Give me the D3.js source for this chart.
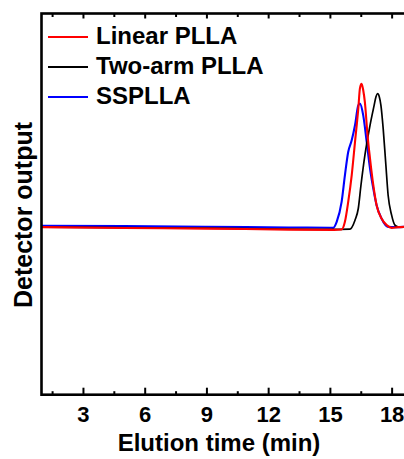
<!DOCTYPE html>
<html>
<head>
<meta charset="utf-8">
<script src="https://cdn.jsdelivr.net/npm/d3@7"></script>
<style>
  html, body { margin: 0; padding: 0; background: #fff; }
  svg { display: block; font-family: "Liberation Sans", Arial, sans-serif; font-weight: bold; }
</style>
</head>
<body>
<svg id="chart" width="404" height="459"></svg>
<script>
// GPC traces: elution time (min) and normalised detector response
const linearTime  = [1, 5, 9, 13, 15.2, 15.57, 15.73, 15.89, 16.06, 16.22, 16.38, 16.46, 16.54, 16.62, 16.70, 16.83, 16.95, 17.11, 17.27, 17.51, 17.76, 18.0, 18.32, 18.8];
const linearValue = [0.007, 0.001, -0.003, -0.010, -0.012, -0.009, 0.044, 0.182, 0.366, 0.596, 0.827, 0.968, 1.0, 0.955, 0.873, 0.643, 0.482, 0.297, 0.159, 0.067, 0.021, 0.002, 0.007, 0.010];

const twoArmTime  = [1, 5, 9, 13, 15.0, 15.97, 16.22, 16.38, 16.51, 16.70, 16.95, 17.15, 17.24, 17.32, 17.40, 17.48, 17.59, 17.71, 17.83, 18.0, 18.16, 18.32, 18.8];
const twoArmValue = [0.007, 0.003, 0.0, -0.007, -0.009, -0.007, 0.055, 0.136, 0.297, 0.504, 0.712, 0.850, 0.910, 0.931, 0.910, 0.850, 0.689, 0.458, 0.228, 0.090, 0.021, 0.009, 0.010];

const ssTime  = [1, 5, 9, 13, 15.0, 15.16, 15.33, 15.57, 15.73, 15.89, 16.06, 16.22, 16.38, 16.46, 16.62, 16.79, 16.95, 17.11, 17.27, 17.51, 17.83, 18.16, 18.8];
const ssValue = [0.016, 0.014, 0.010, 0.005, 0.003, 0.002, 0.044, 0.182, 0.366, 0.527, 0.608, 0.712, 0.850, 0.862, 0.781, 0.596, 0.413, 0.274, 0.159, 0.067, 0.009, 0.007, 0.010];

const seriesNames  = ["Linear PLLA", "Two-arm PLLA", "SSPLLA"];
const seriesColors = ["#ff0000", "#000000", "#0000ff"];
const majorTicks   = [3, 6, 9, 12, 15, 18];
const minorTicks   = [1.5, 4.5, 7.5, 10.5, 13.5, 16.5];

const svg = d3.select("#chart");
const plotLeft = 41.5, plotRight = 412.2, plotTop = 13.5, plotBottom = 394.7;

const x = d3.scaleLinear().domain([1, 19]).range([41.8, 412.2]);
const y = d3.scaleLinear().domain([-1.153, 1.486]).range([plotBottom, plotTop]);

const series = [
  linearTime.map((t, i) => [t, linearValue[i]]),
  twoArmTime.map((t, i) => [t, twoArmValue[i]]),
  ssTime.map((t, i) => [t, ssValue[i]])
];

svg.append("clipPath").attr("id", "plotClip")
  .append("rect").attr("x", plotLeft).attr("y", plotTop)
  .attr("width", plotRight - plotLeft).attr("height", plotBottom - plotTop);

const line = d3.line().x(d => x(d[0])).y(d => y(d[1])).curve(d3.curveMonotoneX);

const traces = svg.append("g").attr("clip-path", "url(#plotClip)");
// blue first, then black, red on top
[2, 1, 0].forEach(i => {
  traces.append("path")
    .datum(series[i])
    .attr("fill", "none")
    .attr("stroke", seriesColors[i])
    .attr("stroke-width", i === 1 ? 1.7 : 2.1)
    .attr("stroke-linejoin", "round")
    .attr("d", line);
});

// bottom axis with inward ticks
const bottomAxis = d3.axisBottom(x).tickValues(majorTicks).tickSize(-7).tickFormat(d3.format("d"));
const gb = svg.append("g").attr("transform", `translate(0,${plotBottom})`).call(bottomAxis);
gb.select(".domain").remove();
gb.selectAll(".tick line").attr("stroke", "#000").attr("stroke-width", 2);
gb.selectAll(".tick text").attr("font-size", 22).attr("font-weight", "bold").attr("fill", "#000")
  .attr("font-family", "Liberation Sans, Arial, sans-serif").attr("dy", null).attr("y", 27.5);

const bottomMinor = d3.axisBottom(x).tickValues(minorTicks).tickSize(-3.5).tickFormat("");
const gbm = svg.append("g").attr("transform", `translate(0,${plotBottom})`).call(bottomMinor);
gbm.select(".domain").remove();
gbm.selectAll(".tick line").attr("stroke", "#000").attr("stroke-width", 2);

// top axis mirrors the ticks
const topAxis = d3.axisTop(x).tickValues(majorTicks).tickSize(-5).tickFormat("");
const gt = svg.append("g").attr("transform", `translate(0,${plotTop})`).call(topAxis);
gt.select(".domain").remove();
gt.selectAll(".tick line").attr("stroke", "#000").attr("stroke-width", 2);
const topMinor = d3.axisTop(x).tickValues(minorTicks).tickSize(-3.5).tickFormat("");
const gtm = svg.append("g").attr("transform", `translate(0,${plotTop})`).call(topMinor);
gtm.select(".domain").remove();
gtm.selectAll(".tick line").attr("stroke", "#000").attr("stroke-width", 2);

// frame
svg.append("rect")
  .attr("x", plotLeft).attr("y", plotTop)
  .attr("width", plotRight - plotLeft).attr("height", plotBottom - plotTop)
  .attr("fill", "none").attr("stroke", "#000").attr("stroke-width", 2.6);

// axis titles
svg.append("text")
  .attr("x", 219).attr("y", 450.5)
  .attr("text-anchor", "middle").attr("font-size", 24).attr("fill", "#000")
  .text("Elution time (min)");

svg.append("text")
  .attr("transform", "translate(32,215) rotate(-90)")
  .attr("text-anchor", "middle").attr("font-size", 25).attr("fill", "#000")
  .text("Detector output");

// legend
const legend = svg.append("g");
seriesNames.forEach((name, i) => {
  const ly = 37 + i * 30;
  legend.append("line")
    .attr("x1", 48).attr("x2", 88).attr("y1", ly).attr("y2", ly)
    .attr("stroke", seriesColors[i]).attr("stroke-width", 2);
  legend.append("text")
    .attr("x", 96).attr("y", ly + 6.5)
    .attr("font-size", 24).attr("fill", "#000")
    .text(name);
});
</script>
</body>
</html>
